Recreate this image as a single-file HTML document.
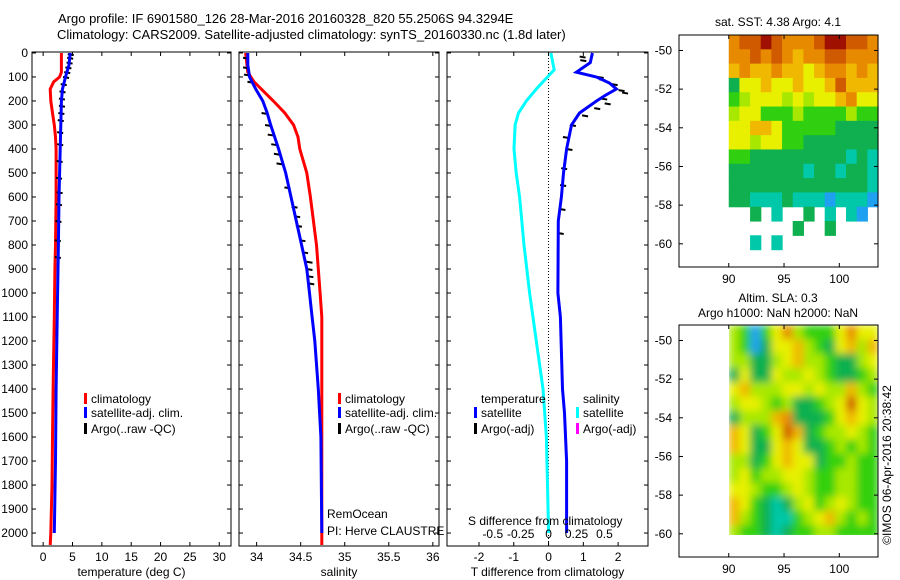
<!DOCTYPE html>
<html><head><meta charset="utf-8"><style>
html,body{margin:0;padding:0;background:#fff;}
svg{display:block;font-family:"Liberation Sans",sans-serif;}
text{font-size:12px;fill:#000;}
</style></head><body>
<svg id="chart" width="900" height="580" viewBox="0 0 900 580" xmlns="http://www.w3.org/2000/svg">
<text x="58" y="23" style="font-size:13px">Argo profile: IF 6901580_126 28-Mar-2016 20160328_820 55.2506S 94.3294E</text>
<text x="57" y="39" style="font-size:13px">Climatology: CARS2009. Satellite-adjusted climatology: synTS_20160330.nc (1.8d later)</text>
<g id="layer"></g>
</svg>
<script>
// ---------- data ----------
const depthTicks = [0,100,200,300,400,500,600,700,800,900,1000,1100,1200,1300,1400,1500,1600,1700,1800,1900,2000];
const tempTicks = [0,5,10,15,20,25,30];
const salTicks = [34,34.5,35,35.5,36];
const salTickLabels = ["34","34.5","35","35.5","36"];
const tdiffTicks = [-2,-1,0,1,2];
const sdiffTicks = [-0.5,-0.25,0,0.25,0.5];
const sdiffTickLabels = ["-0.5","-0.25","0","0.25","0.5"];

const tClimDepth = [0,80,100,120,150,200,250,300,350,400,600,800,900,1100,1400,1600,1800,2000,2050];
const tClimVal   = [3.1,3.1,2.8,1.8,1.2,1.3,1.6,1.9,2.1,2.2,2.2,2.1,2.0,1.9,1.7,1.6,1.5,1.3,1.2];
const tSatDepth = [0,50,100,150,200,300,400,600,800,1100,1400,1700,2000];
const tSatVal   = [4.6,4.4,3.8,3.3,3.1,3.0,2.9,2.7,2.6,2.4,2.2,2.1,1.9];
const tArgoDepth = [5,20,40,60,80,100,130,160,190,220,250,280,330,380,450,520,580,630,700,780,850];
const tArgoVal   = [4.7,4.6,4.5,4.3,4.1,3.9,3.5,3.3,3.2,3.2,3.1,3.0,2.9,2.9,2.8,2.7,2.8,2.7,2.6,2.5,2.5];

const sClimDepth = [0,80,120,160,200,250,300,350,400,500,600,800,1000,1100,1400,2000,2050];
const sClimVal   = [33.875,33.9,33.97,34.08,34.19,34.32,34.42,34.47,34.49,34.57,34.61,34.68,34.72,34.74,34.74,34.74,34.74];
const sSatDepth = [0,50,100,150,200,250,300,400,500,600,700,800,900,1000,1100,1200,1400,1600,2000];
const sSatVal   = [33.9,33.9,33.92,33.99,34.07,34.12,34.16,34.25,34.33,34.39,34.45,34.51,34.57,34.6,34.63,34.66,34.7,34.73,34.74];
const sArgoDepth = [20,60,90,120,250,300,340,380,420,460,560,640,680,720,780,830,870,900,930,960];
const sArgoVal   = [33.88,33.88,33.89,33.93,34.09,34.13,34.16,34.2,34.23,34.26,34.35,34.43,34.46,34.48,34.52,34.55,34.6,34.6,34.61,34.62];

const dtSatDepth = [0,40,80,100,125,150,175,200,250,300,400,500,600,700,1000,1100,1400,1500,1700,2000];
const dtSatVal   = [1.26,1.2,0.8,1.38,1.75,1.95,1.65,1.38,0.89,0.66,0.52,0.43,0.37,0.28,0.27,0.34,0.4,0.46,0.52,0.52];
const dtArgoDepth = [15,30,100,110,130,155,165,190,210,230,260,300,350,400,480,550,650,750];
const dtArgoVal   = [0.98,1.0,1.5,1.55,1.9,2.1,2.2,1.6,1.7,1.4,1.05,0.7,0.5,0.6,0.45,0.42,0.4,0.35];
const dsSatDepth = [0,70,100,150,200,250,300,400,500,600,800,1000,1200,1400,1600,2000];
const dsSatVal   = [0.02,0.05,-0.01,-0.11,-0.2,-0.27,-0.3,-0.31,-0.29,-0.26,-0.22,-0.17,-0.11,-0.05,-0.02,0];

const mapLonTicks = [90,95,100];
const mapLatTicks = [-50,-52,-54,-56,-58,-60];
const palette = ["#20a0f0","#00c8a8","#10b050","#30d010","#a8e800","#e8f000","#f0b800","#e88a00","#d05a00","#a01000"];
const sstGrid = [
[7,8,8,9,8,7,7,7,8,9,9,8,8,7],
[7,7,8,7,8,7,6,7,7,8,8,7,7,7],
[6,7,6,6,7,6,6,5,6,7,7,6,7,6],
[2,5,5,6,5,5,6,5,5,6,8,6,6,6],
[3,4,5,5,5,4,5,4,5,5,6,7,5,5],
[4,5,5,3,3,3,4,3,3,3,3,4,3,3],
[5,5,6,6,5,3,3,3,3,3,2,2,2,2],
[5,5,4,5,5,3,3,2,2,2,2,2,2,2],
[3,3,2,2,2,2,2,2,2,2,2,1,2,1],
[2,2,2,2,2,2,2,1,2,2,1,2,2,1],
[2,2,2,2,2,2,2,2,2,2,2,2,2,1],
[2,2,1,1,1,2,1,1,1,0,1,1,1,0],
[-1,-1,2,-1,1,-1,-1,2,-1,1,-1,1,0,-1],
[-1,-1,-1,-1,-1,-1,2,-1,-1,2,-1,-1,-1,-1],
[-1,-1,1,-1,1,-1,-1,-1,-1,-1,-1,-1,-1,-1]];
const slaGrid = [
[4,3,0,3,5,7,4,3,3,3,5,7,5,5],
[4,3,0,2,5,5,6,4,3,2,5,6,4,6],
[4,4,2,2,4,5,6,4,4,3,2,2,4,5],
[2,5,2,2,5,4,4,5,4,3,2,2,3,4],
[5,6,4,4,4,5,5,4,5,4,4,6,4,3],
[4,5,5,4,3,4,2,2,3,4,5,8,5,4],
[2,4,4,4,6,7,2,2,2,3,5,6,5,4],
[6,5,2,3,5,8,6,2,3,4,4,5,4,3],
[6,5,2,2,5,6,5,2,2,3,4,3,4,3],
[4,4,2,3,5,6,5,5,2,3,3,4,3,3],
[4,5,3,4,4,5,5,4,3,3,4,4,3,3],
[5,5,4,3,3,4,5,4,3,3,4,4,3,3],
[6,5,3,2,1,2,4,5,3,4,5,4,3,3],
[6,4,3,2,1,1,3,4,5,6,4,3,4,3],
[4,3,3,2,1,2,3,3,4,4,3,3,3,3]];

// ---------- drawing ----------
const NS = "http://www.w3.org/2000/svg";
const L = document.getElementById('layer');
function mk(tag, attrs, parent){ const e=document.createElementNS(NS,tag); for(const k in attrs) e.setAttribute(k,attrs[k]); (parent||L).appendChild(e); return e; }
const Y0=52, Y1=546, DMIN=-4, DMAX=2054;
function yD(d){ return Y0 + (d-DMIN)*(Y1-Y0)/(DMAX-DMIN); }
function xs(p){ return v => p.x0 + (v-p.min)*(p.x1-p.x0)/(p.max-p.min); }
const P1={x0:32,x1:231,min:-1.9,max:32}, P2={x0:239,x1:439,min:33.8,max:36.07}, P3={x0:447,x1:648,min:-2.92,max:2.86};
const P3s={x0:447,x1:648,min:-0.91,max:0.89};

function frame(p,name,xt,xl,xlab){
  const g=mk('g',{});
  
  
  const r=mk('rect',{x:p.x0,y:Y0,width:p.x1-p.x0,height:Y1-Y0,fill:'none',stroke:'#000','stroke-width':1},g);
  
  
  depthTicks.forEach(d=>{ const y=yD(d);
    mk('line',{x1:p.x0,x2:p.x0+4,y1:y,y2:y,stroke:'#000'},g);
    mk('line',{x1:p.x1,x2:p.x1-4,y1:y,y2:y,stroke:'#000'},g);
  });
  const X=xs(p);
  xt.forEach((v,i)=>{ const x=X(v);
    mk('line',{x1:x,x2:x,y1:Y1,y2:Y1-4,stroke:'#000'},g);
    mk('line',{x1:x,x2:x,y1:Y0,y2:Y0+4,stroke:'#000'},g);
    const t=mk('text',{x:x,y:Y1+15,'text-anchor':'middle'},g); t.textContent=xl[i];
    
    
  });
  const t=mk('text',{x:(p.x0+p.x1)/2,y:576,'text-anchor':'middle'},g); t.textContent=xlab;
  
  
}
frame(P1,'temperature-panel',tempTicks,tempTicks.map(String),'temperature (deg C)');
frame(P2,'salinity-panel',salTicks,salTickLabels,'salinity');
frame(P3,'difference-panel',tdiffTicks,tdiffTicks.map(String),'T difference from climatology');
depthTicks.forEach(d=>{ const t=mk('text',{x:28,y:yD(d)+4,'text-anchor':'end'}); t.textContent=d;
  
   });

function line(p,ds,vs,color,w,name){
  const X=xs(p); const pts=ds.map((d,i)=>X(vs[i]).toFixed(1)+','+yD(d).toFixed(1)).join(' ');
  const e=mk('polyline',{points:pts,fill:'none',stroke:color,'stroke-width':w});
  
  
}
function dashes(p,ds,vs,name){
  const X=xs(p); const g=mk('g',{});
  
  
  ds.forEach((d,i)=>{ const x=X(vs[i]),y=yD(d); mk('line',{x1:x-3,x2:x+3,y1:y,y2:y+1,stroke:'#000','stroke-width':2},g); });
}
const z=xs(P3)(0);
const zl=mk('line',{x1:z,x2:z,y1:Y0,y2:Y1,stroke:'#000','stroke-dasharray':'1,2'});



line(P1,tClimDepth,tClimVal,'#ff0000',3,'temp-climatology-line');
dashes(P1,tArgoDepth,tArgoVal,'temp-argo-marks');
line(P1,tSatDepth,tSatVal,'#0000ff',3,'temp-satellite-line');
line(P2,sClimDepth,sClimVal,'#ff0000',3,'sal-climatology-line');
dashes(P2,sArgoDepth,sArgoVal,'sal-argo-marks');
line(P2,sSatDepth,sSatVal,'#0000ff',3,'sal-satellite-line');
line(P3s,dsSatDepth,dsSatVal,'#00ffff',3,'sdiff-satellite-line');
dashes(P3,dtArgoDepth,dtArgoVal,'tdiff-argo-marks');
line(P3,dtSatDepth,dtSatVal,'#0000ff',3,'tdiff-satellite-line');

const Xs=xs(P3s);
sdiffTicks.forEach((v,i)=>{ const t=mk('text',{x:Xs(v),y:538,'text-anchor':'middle'}); t.textContent=sdiffTickLabels[i];
  
   });

function legend(x,y,color,label,name){
  const g=mk('g',{});
  
  
  mk('rect',{x:x,y:y-10,width:3,height:11,fill:color},g);
  const t=mk('text',{x:x+7,y:y},g); t.textContent=label;
}
legend(84,403,'#ff0000','climatology','legend-temp-climatology');
legend(84,417,'#0000ff','satellite-adj. clim.','legend-temp-satellite');
legend(84,433,'#000000','Argo(..raw -QC)','legend-temp-argo');
legend(338,403,'#ff0000','climatology','legend-sal-climatology');
legend(338,417,'#0000ff','satellite-adj. clim.','legend-sal-satellite');
legend(338,433,'#000000','Argo(..raw -QC)','legend-sal-argo');
legend(474,417,'#0000ff','satellite','legend-diff-temp-satellite');
legend(474,433,'#000000','Argo(-adj)','legend-diff-temp-argo');
legend(576,417,'#00ffff','satellite','legend-diff-sal-satellite');
legend(576,433,'#ff00ff','Argo(-adj)','legend-diff-sal-argo');
function txt(x,y,s,name,extra){ const t=mk('text',Object.assign({x:x,y:y},extra||{})); t.textContent=s;
  
   return t; }
txt(481,403,'temperature','legend-temperature-heading');
txt(583,403,'salinity','legend-salinity-heading');
txt(327,518,'RemOcean','project-label');
txt(327,535,'PI: Herve CLAUSTRE','pi-label');
txt(468,525,'S difference from climatology','s-diff-axis-title');

// ---------- maps ----------
function map(top,bottom,grid,name,blur){
  const x0=679,x1=878, lonMin=85.5, lonMax=103.5, latTop=-49.2, latBot=-61.2;
  const LX=v=>x0+(v-lonMin)*(x1-x0)/(lonMax-lonMin);
  const LY=v=>top+(v-latTop)*(bottom-top)/(latBot-latTop);
  const g=mk('g',{});
  
  
  const rows=grid.length, cols=grid[0].length;
  const gx0=LX(90), gx1=x1, gy0=top, gy1=LY(latTop-rows*0.74);
  const cw=(gx1-gx0)/cols, ch=(gy1-gy0)/rows;
  const cells=mk('g',blur?{filter:'url(#blur)','clip-path':'url(#clipSla)'}:{},g);
  grid.forEach((row,r)=>row.forEach((v,c)=>{ if(v<0) return;
    const cell=mk('rect',{x:gx0+c*cw,y:gy0+r*ch,width:cw+0.6,height:ch+0.6,fill:palette[v]},cells);
    
    
  }));
  mk('rect',{x:x0,y:top,width:x1-x0,height:bottom-top,fill:'none',stroke:'#000'},g);
  mapLonTicks.forEach(v=>{ const x=LX(v); mk('line',{x1:x,x2:x,y1:bottom,y2:bottom-4,stroke:'#000'},g); mk('line',{x1:x,x2:x,y1:top,y2:top+4,stroke:'#000'},g);
    const t=mk('text',{x:x,y:bottom+16,'text-anchor':'middle'},g); t.textContent=v; });
  mapLatTicks.forEach(v=>{ const y=LY(v); mk('line',{x1:x0,x2:x0+4,y1:y,y2:y,stroke:'#000'},g); mk('line',{x1:x1,x2:x1-4,y1:y,y2:y,stroke:'#000'},g);
    const t=mk('text',{x:x0-7,y:y+4,'text-anchor':'end'},g); t.textContent=v; });
}
const defs=mk('defs',{});
const f=mk('filter',{id:'blur',x:'-5%',y:'-5%',width:'110%',height:'110%'},defs);
mk('feGaussianBlur',{stdDeviation:4},f);
const cp=mk('clipPath',{id:'clipSla'},defs);
mk('rect',{x:729,y:325,width:149,height:210},cp);
map(35,267,sstGrid,'sst-map',false);
map(325,557,slaGrid,'sla-map',true);
txt(778,26,'sat. SST: 4.38 Argo: 4.1','sst-map-title',{'text-anchor':'middle'});
txt(778,302,'Altim. SLA: 0.3','sla-map-title',{'text-anchor':'middle'});
txt(778,317,'Argo h1000: NaN h2000: NaN','sla-map-subtitle',{'text-anchor':'middle'});
txt(0,0,'©IMOS 06-Apr-2016 20:38:42','imos-stamp',{transform:'translate(891,465) rotate(-90)','text-anchor':'middle'});
</script>
</body></html>
